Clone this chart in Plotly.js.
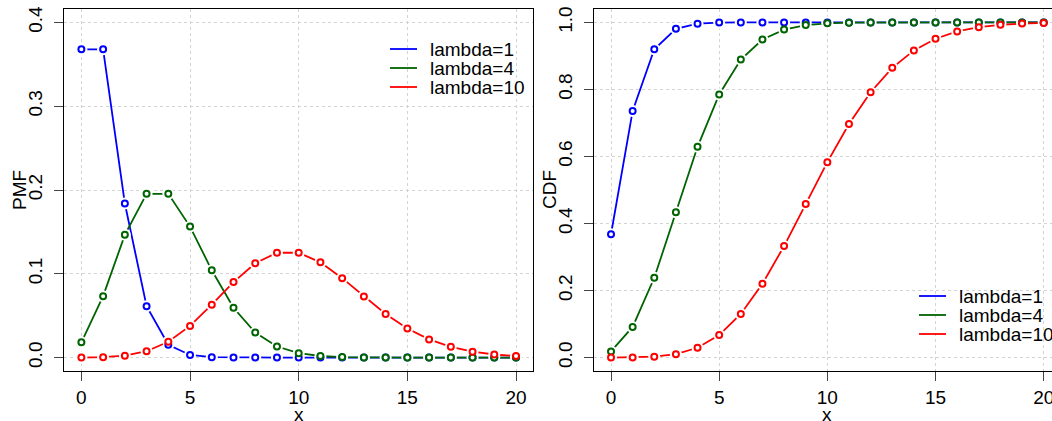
<!DOCTYPE html>
<html><head><meta charset="utf-8">
<script src="https://cdn.plot.ly/plotly-3.0.1.min.js"></script>
<style>html,body{margin:0;padding:0;overflow:hidden;background:#fff}</style>
</head><body><div id="chart" style="width:1070px;height:421px"></div>
<script>
// ---- data ----
const xValues = [0,1,2,3,4,5,6,7,8,9,10,11,12,13,14,15,16,17,18,19,20];
const seriesNames = ['lambda=1','lambda=4','lambda=10'];
const seriesColors = ['#0000FF','#006400','#FF0000'];
const pmfLambda1 = [0.3679,0.3679,0.1839,0.0613,0.0153,0.0031,0.0005,0.0001,0,0,0,0,0,0,0,0,0,0,0,0,0];
const pmfLambda4 = [0.0183,0.0733,0.1465,0.1954,0.1954,0.1563,0.1042,0.0595,0.0298,0.0132,0.0053,0.0019,0.0006,0.0002,0.0001,0,0,0,0,0,0];
const pmfLambda10 = [0.0000,0.0005,0.0023,0.0076,0.0189,0.0378,0.0631,0.0901,0.1126,0.1251,0.1251,0.1137,0.0948,0.0729,0.0521,0.0347,0.0217,0.0128,0.0071,0.0037,0.0019];
const cdfLambda1 = [0.3679,0.7358,0.9197,0.9810,0.9963,0.9994,0.9999,1,1,1,1,1,1,1,1,1,1,1,1,1,1];
const cdfLambda4 = [0.0183,0.0916,0.2381,0.4335,0.6288,0.7851,0.8893,0.9489,0.9786,0.9919,0.9972,0.9991,0.9997,0.9999,1,1,1,1,1,1,1];
const cdfLambda10 = [0.0000,0.0005,0.0028,0.0103,0.0293,0.0671,0.1301,0.2202,0.3328,0.4579,0.5830,0.6968,0.7916,0.8645,0.9165,0.9513,0.9730,0.9857,0.9928,0.9965,0.9984];
const xTicks = [0,5,10,15,20];
const pmfTicks = [0,0.1,0.2,0.3,0.4];
const cdfTicks = [0,0.2,0.4,0.6,0.8,1.0];
const axisTitles = {x: 'x', pmf: 'PMF', cdf: 'CDF'};

// ---- build ----
const FONT = 'Liberation Sans, Arial, Helvetica, sans-serif';
const FS = 19;
const W = 1070, H = 421, ML = 64, MR = 9, MT = 9, MB = 50;
const PW = W - ML - MR, PH = H - MT - MB;
const px = v => (v - ML) / PW;
const py = v => (H - MB - v) / PH;

function panelTraces(valuesList, xa, ya) {
  const lines = [], rings = [];
  valuesList.forEach((vals, i) => {
    lines.push({x: xValues, y: vals, xaxis: xa, yaxis: ya, mode: 'lines', showlegend: false,
      line: {color: seriesColors[i], width: 1.8}, hoverinfo: 'skip'});
    lines.push({x: xValues, y: vals, xaxis: xa, yaxis: ya, mode: 'markers', showlegend: false,
      marker: {color: '#ffffff', size: 12, line: {width: 0}}, hoverinfo: 'skip'});
    rings.push({x: xValues, y: vals, xaxis: xa, yaxis: ya, mode: 'markers', showlegend: false,
      name: seriesNames[i],
      marker: {color: '#ffffff', size: 6, symbol: 'circle', line: {color: seriesColors[i], width: 2}}});
  });
  return lines.concat(rings);
}

const data = panelTraces([pmfLambda1, pmfLambda4, pmfLambda10], 'x', 'y')
  .concat(panelTraces([cdfLambda1, cdfLambda4, cdfLambda10], 'x2', 'y2'));

const axisCommon = {
  showline: true, mirror: true, linecolor: '#000', linewidth: 1,
  ticks: 'outside', ticklen: 9, tickwidth: 1, tickcolor: '#444',
  showgrid: true, gridcolor: '#d3d3d3', griddash: 'dot', gridwidth: 1,
  zeroline: false, tickfont: {family: FONT, size: FS, color: '#000'}
};

const annotations = [], shapes = [];
function addLegend(lineX0, lineX1, textX, rowsY) {
  seriesNames.forEach((nm, i) => {
    shapes.push({type: 'line', xref: 'paper', yref: 'paper',
      x0: px(lineX0), x1: px(lineX1), y0: py(rowsY[i]), y1: py(rowsY[i]),
      line: {color: seriesColors[i], width: 1.8}});
    annotations.push({xref: 'paper', yref: 'paper', x: px(textX), y: py(rowsY[i]),
      xanchor: 'left', yanchor: 'middle', showarrow: false, text: nm,
      font: {family: FONT, size: FS, color: '#000'}});
  });
}
addLegend(390, 417, 428, [49, 68, 87]);
addLegend(919, 946, 957, [296, 315, 334]);

function addTitle(text, cx, cy, angle) {
  annotations.push({xref: 'paper', yref: 'paper', x: px(cx), y: py(cy),
    xanchor: 'center', yanchor: 'middle', showarrow: false, textangle: angle, text: text,
    font: {family: FONT, size: FS, color: '#000'}});
}
addTitle(axisTitles.pmf, 19, 190, -90);
addTitle(axisTitles.cdf, 549, 190, -90);
addTitle(axisTitles.x, 299, 414, 0);
addTitle(axisTitles.x, 827, 414, 0);

const layout = {
  width: W, height: H, margin: {l: ML, r: MR, t: MT, b: MB},
  paper_bgcolor: '#fff', plot_bgcolor: '#fff', showlegend: false,
  font: {family: FONT, size: FS, color: '#000'},
  xaxis: Object.assign({}, axisCommon, {domain: [0, px(533.4)], range: [-0.8, 20.8], tickvals: xTicks}),
  yaxis: Object.assign({}, axisCommon, {domain: [0, 1], range: [-0.016, 0.416], tickvals: pmfTicks,
    tickformat: '.1f', tickangle: -90, ticklabelstandoff: 4}),
  xaxis2: Object.assign({}, axisCommon, {domain: [px(593.7), 1], range: [-0.8, 20.8], tickvals: xTicks, anchor: 'y2'}),
  yaxis2: Object.assign({}, axisCommon, {domain: [0, 1], range: [-0.04, 1.04], tickvals: cdfTicks, anchor: 'x2',
    tickformat: '.1f', tickangle: -90, ticklabelstandoff: 4}),
  annotations: annotations, shapes: shapes
};

Plotly.newPlot('chart', data, layout, {displayModeBar: false, staticPlot: true});
</script></body></html>
